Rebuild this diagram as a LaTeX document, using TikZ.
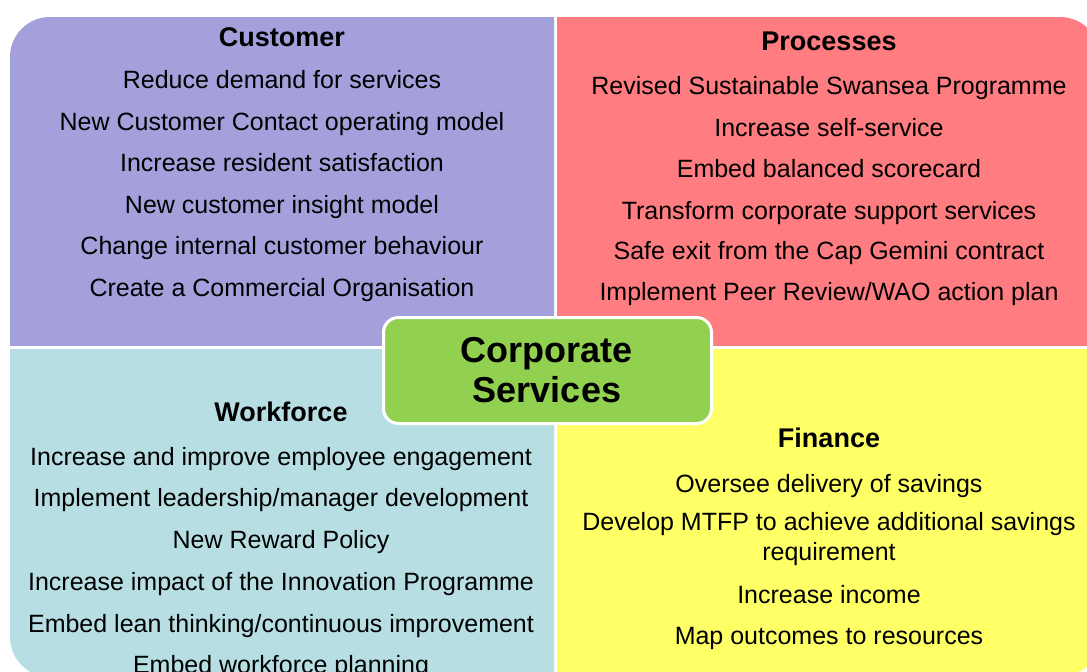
\documentclass[tikz,border=0pt]{standalone}
\usepackage{fontspec}
\setmainfont{Liberation Sans}
\definecolor{qpurple}{HTML}{A4A0DC}
\definecolor{qred}{HTML}{FF7C80}
\definecolor{qblue}{HTML}{B7DFE3}
\definecolor{qyellow}{HTML}{FFFF66}
\definecolor{qgreen}{HTML}{92D050}
\begin{document}
\begin{tikzpicture}[x=1pt,y=-1pt,
  item/.style={anchor=base,inner sep=0pt,font=\fontsize{25}{30}\selectfont},
  ttl/.style={anchor=base,inner sep=0pt,font=\fontsize{27}{32}\selectfont\bfseries},
  ctr/.style={anchor=base,inner sep=0pt,font=\fontsize{36}{40}\selectfont\bfseries},
  centrebox/.style={draw=white,line width=3pt,fill=qgreen,rounded corners=15pt,
    minimum width=328pt,minimum height=106pt,inner sep=0pt}]
\useasboundingbox (0,0) rectangle (1087,672);
% quadrants
\begin{scope}
  \clip (10,17) rectangle (554,345);
  \fill[qpurple,rounded corners=40pt] (10,17) rectangle (700,500);
\end{scope}
\begin{scope}
  \clip (557,17) rectangle (1087,345);
  \fill[qred,rounded corners=40pt] (400,17) rectangle (1100,500);
\end{scope}
\begin{scope}
  \clip (10,349) rectangle (554,672);
  \fill[qblue,rounded corners=40pt] (10,200) rectangle (700,677);
\end{scope}
\begin{scope}
  \clip (557,349) rectangle (1087,672);
  \fill[qyellow,rounded corners=40pt] (400,200) rectangle (1100,677);
\end{scope}
% Customer
\node[ttl] (cust) at (282,46) {Customer};
\node[item] (c1) at (282,88) {Reduce demand for services};
\node[item] (c2) at (282,130) {New Customer Contact operating model};
\node[item] (c3) at (282,171) {Increase resident satisfaction};
\node[item] (c4) at (282,213) {New customer insight model};
\node[item] (c5) at (282,254) {Change internal customer behaviour};
\node[item] (c6) at (282,296) {Create a Commercial Organisation};
% Processes
\node[ttl] (proc) at (829,50) {Processes};
\node[item] (p1) at (829,94) {Revised Sustainable Swansea Programme};
\node[item] (p2) at (829,136) {Increase self-service};
\node[item] (p3) at (829,177) {Embed balanced scorecard};
\node[item] (p4) at (829,219) {Transform corporate support services};
\node[item] (p5) at (829,259) {Safe exit from the Cap Gemini contract};
\node[item] (p6) at (829,300) {Implement Peer Review/WAO action plan};
% Workforce
\node[ttl] (work) at (281,421) {Workforce};
\node[item] (w1) at (281,465) {Increase and improve employee engagement};
\node[item] (w2) at (281,506) {Implement leadership/manager development};
\node[item] (w3) at (281,548) {New Reward Policy};
\node[item] (w4) at (281,590) {Increase impact of the Innovation Programme};
\node[item] (w5) at (281,632) {Embed lean thinking/continuous improvement};
\node[item] (w6) at (281,673) {Embed workforce planning};
% Finance
\node[ttl] (fin) at (829,447) {Finance};
\node[item] (f1) at (829,492) {Oversee delivery of savings};
\node[item] (f2) at (829,530) {Develop MTFP to achieve additional savings};
\node[item] (f2b) at (829,560) {requirement};
\node[item] (f3) at (829,603) {Increase income};
\node[item] (f4) at (829,644) {Map outcomes to resources};
% centre
\node[centrebox] (box) at (547.5,370.5) {};
\node[ctr] (cs1) at (547,362) {Corporate};
\node[ctr] (cs2) at (547,402) {Services};
\end{tikzpicture}
\end{document}
